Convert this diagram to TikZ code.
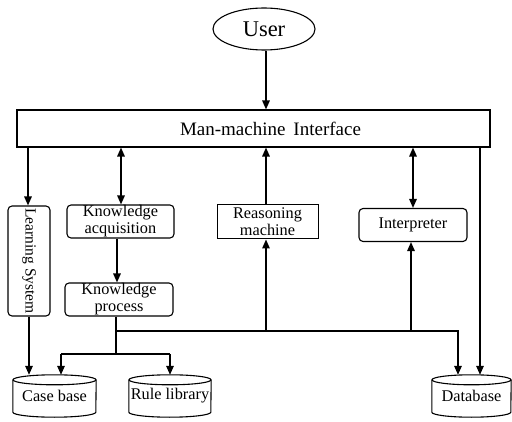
\documentclass[tikz,border=0pt]{standalone}
\usepackage{fontspec}
\setmainfont{Liberation Serif}
\usetikzlibrary{arrows.meta,shapes.geometric}
\begin{document}
\begin{tikzpicture}[x=1pt,y=1pt,
  box/.style={draw,line width=1.1pt,inner sep=0pt,align=center,font=\fontsize{16.3}{17}\selectfont},
  rbox/.style={box,rounded corners=4pt},
  cyl/.style={inner sep=0pt,minimum height=42pt,font=\fontsize{16.3}{17}\selectfont},
  arr/.style={line width=1.5pt,-{Triangle[length=9pt,width=7.5pt]}},
  darr/.style={line width=1.5pt,{Triangle[length=9pt,width=7.5pt]}-{Triangle[length=9pt,width=7.5pt]}},
  ln/.style={line width=1.5pt}]
\useasboundingbox (0,0) rectangle (512,421);
% nodes
\node[draw,ellipse,line width=1.1pt,minimum width=102pt,minimum height=42pt,inner sep=0pt,font=\fontsize{22.5}{24}\selectfont] (user) at (264,392) {User};
\node[box,minimum width=473pt,minimum height=37pt,font=\fontsize{19}{20}\selectfont] (iface) at (253.5,292.5) {\hspace*{34pt}Man-machine\, Interface};
\node[rbox,minimum width=42pt,minimum height=110pt,font=\fontsize{15.5}{16}\selectfont] (learn) at (29,160) {\rotatebox{-90}{Learning System}};
\node[rbox,minimum width=107pt,minimum height=33pt] (ka) at (120.5,199.5) {Knowledge\\acquisition};
\node[rbox,minimum width=108pt,minimum height=33pt] (kp) at (119,121.5) {Knowledge\\process};
\node[box,line width=1pt,minimum width=101pt,minimum height=34pt] (rm) at (267.5,199) {Reasoning\\machine};
\node[rbox,minimum width=108pt,minimum height=33pt] (interp) at (413,196) {Interpreter};
\node[cyl,minimum width=83pt] (case) at (54.5,25) {\raisebox{-3pt}{Case base}};
\node[cyl,minimum width=82pt] (rule) at (170,25) {\raisebox{-3pt}{Rule library}};
\node[cyl,minimum width=79pt] (db) at (471.5,25) {\raisebox{-3pt}{Database}};
% cylinder outlines
\foreach \n/\r in {case/41.5,rule/41,db/39.5}{
  \draw[line width=1.1pt] ([yshift=-5pt]\n.north west) -- ([yshift=5pt]\n.south west)
     arc[start angle=180,end angle=360,x radius=\r pt,y radius=5pt] -- ([yshift=-5pt]\n.north east);
  \draw[line width=1.1pt] ([yshift=-5pt]\n.north) ellipse[x radius=\r pt,y radius=5pt];
}
% coordinates
\coordinate (bus0) at (116,90);
\coordinate (bus1) at (458,90);
\coordinate (split) at (116,67);
\coordinate (sl) at (61,67);
\coordinate (sr) at (170,67);
% connectors
\draw[arr] (user.south -| 266,0) -- (iface.north -| 266,0);
\draw[arr] (iface.south -| 28,0) -- (learn.north -| 28,0);
\draw[darr] (ka.north -| 121,0) -- (iface.south -| 121,0);
\draw[arr] (ka.south -| 117,0) -- (kp.north -| 117,0);
\draw[arr] (rm.north -| 266,0) -- (iface.south -| 266,0);
\draw[darr] (interp.north -| 413,0) -- (iface.south -| 413,0);
\draw[arr] (iface.south -| 480,0) -- (db.north -| 480,0);
\draw[ln] (kp.south -| 116,0) -- (split);
\draw[arr] (bus0) -- (bus1) -- (db.north -| bus1);
\draw[arr] (bus0 -| 266,0) -- (rm.south -| 266,0);
\draw[arr] (bus0 -| 411,0) -- (interp.south -| 411,0);
\draw[ln] (sl) -- (sr);
\draw[arr] (sl) -- (case.north -| sl);
\draw[arr] (sr) -- (rule.north -| sr);
\draw[arr] (learn.south -| 29,0) -- (case.north -| 29,0);
\end{tikzpicture}
\end{document}
